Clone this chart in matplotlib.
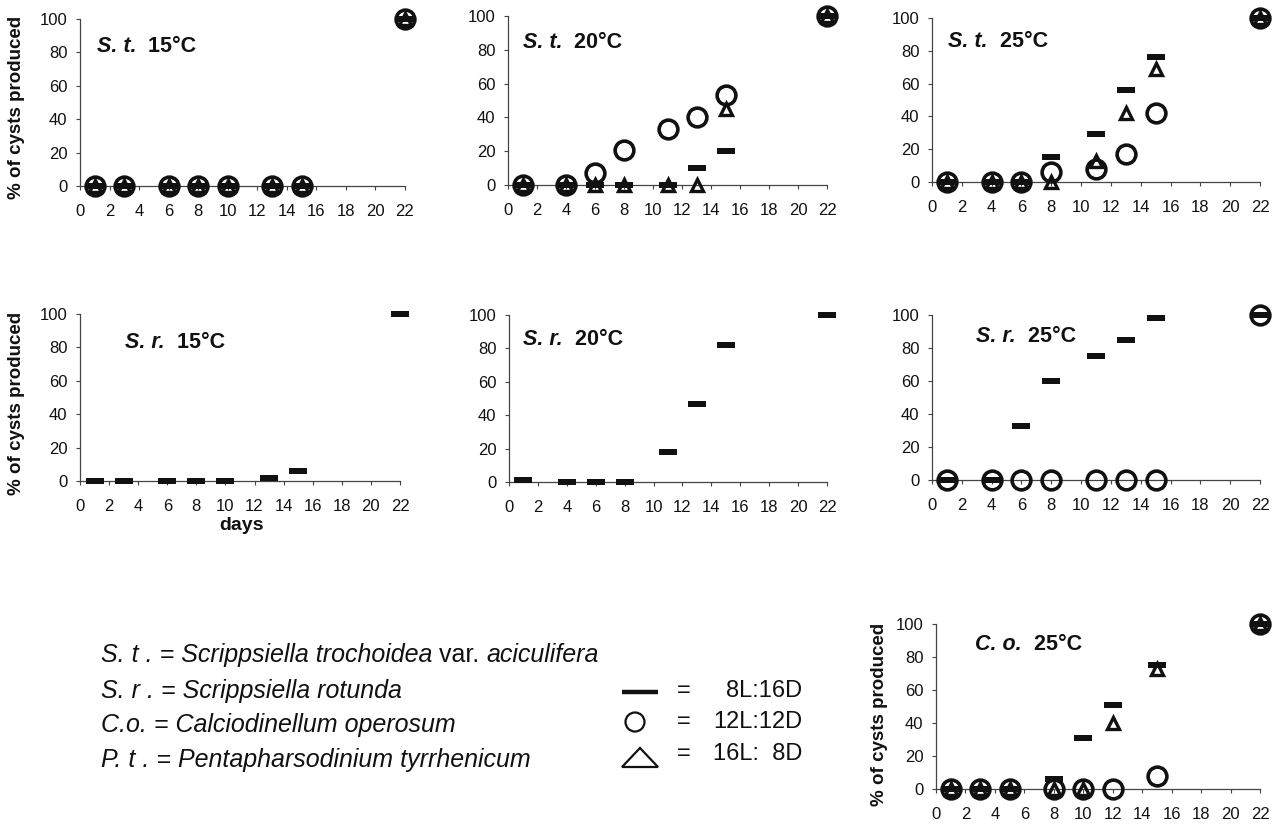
#!/usr/bin/env python3
"""Cyst production vs days, three photoperiods, seven panels."""
import matplotlib
matplotlib.use('Agg')
import matplotlib.pyplot as plt
from matplotlib.path import Path
from matplotlib.patches import Circle, Polygon

plt.rcParams['font.family'] = ['Liberation Sans', 'DejaVu Sans']

# ---- data ----
days_st15 = [1, 3, 6, 8, 10, 13, 15, 22]
st15_dash = [0, 0, 0, 0, 0, 0, 0, 100]
st15_circ = [0, 0, 0, 0, 0, 0, 0, 100]
st15_tri = [0, 0, 0, 0, 0, 0, 0, 100]

days_st20 = [1, 4, 6, 8, 11, 13, 15, 22]
st20_dash = [0, 0, 0, 0, 0, 10, 20, 100]
st20_circ = [0, 0, 7, 21, 33, 40, 53, 100]
st20_tri = [0, 0, 0, 0, 0, 0, 45, 100]

days_st25 = [1, 4, 6, 8, 11, 13, 15, 22]
st25_dash = [0, 0, 0, 15, 29, 56, 76, 100]
st25_circ = [0, 0, 0, 6, 8, 17, 42, 100]
st25_tri = [0, 0, 0, 0, 13, 42, 69, 100]

days_sr15 = [1, 3, 6, 8, 10, 13, 15, 22]
sr15_dash = [0, 0, 0, 0, 0, 2, 6, 100]

days_sr20 = [1, 4, 6, 8, 11, 13, 15, 22]
sr20_dash = [1, 0, 0, 0, 18, 47, 82, 100]

days_sr25 = [1, 4, 6, 8, 11, 13, 15, 22]
sr25_dash = [0, 0, 33, 60, 75, 85, 98, 100]
sr25_circ = [0, 0, 0, 0, 0, 0, 0, 100]

days_co25 = [1, 3, 5, 8, 10, 12, 15, 22]
co25_dash = [0, 0, 0, 6, 31, 51, 75, 100]
co25_circ = [0, 0, 0, 0, 0, 0, 8, 100]
co25_tri = [0, 0, 0, 0, 0, 40, 73, 100]

xticks = list(range(0, 23, 2))
yticks = [0, 20, 40, 60, 80, 100]

INK = '#111111'
SPINE = '#444444'

# thick horizontal bar marker
BAR = Path([(-1, -0.29), (1, -0.29), (1, 0.29), (-1, 0.29), (-1, -0.29)],
           [Path.MOVETO, Path.LINETO, Path.LINETO, Path.LINETO, Path.CLOSEPOLY])

fig = plt.figure(figsize=(12.81, 8.25), dpi=100)
fig.patch.set_facecolor('white')

W, H = 1281.0, 825.0


def px_axes(x0, x1, y_top, y_bot):
    return fig.add_axes([x0 / W, 1 - y_bot / H, (x1 - x0) / W, (y_bot - y_top) / H])


def style(ax):
    ax.set_xlim(0, 22)
    ax.set_ylim(0, 100)
    ax.set_xticks(xticks)
    ax.set_yticks(yticks)
    for s in ['top', 'right']:
        ax.spines[s].set_visible(False)
    for s in ['left', 'bottom']:
        ax.spines[s].set_color(SPINE)
        ax.spines[s].set_linewidth(0.9)
    ax.tick_params(axis='both', direction='out', length=3, width=0.8,
                   color=SPINE, labelsize=12, labelcolor=INK)
    ax.tick_params(axis='x', pad=10)
    ax.tick_params(axis='y', pad=6)
    ax.patch.set_alpha(0)


def plot_series(ax, days, dash=None, circ=None, tri=None):
    if circ is not None:
        ax.plot(days, circ, ls='none', marker='o', ms=13.5, mew=2.6,
                mec=INK, mfc='none', clip_on=False, zorder=3)
    if tri is not None:
        ax.plot(days, tri, ls='none', marker='^', ms=8.5, mew=2.4,
                mec=INK, mfc='none', clip_on=False, zorder=4)
    if dash is not None:
        ax.plot(days, dash, ls='none', marker=BAR, ms=12.5, mew=0,
                mfc=INK, clip_on=False, zorder=5)


panels = [
    (px_axes(80, 405, 19, 186), days_st15, st15_dash, st15_circ, st15_tri),
    (px_axes(508, 827, 16, 185), days_st20, st20_dash, st20_circ, st20_tri),
    (px_axes(932, 1260, 18, 182), days_st25, st25_dash, st25_circ, st25_tri),
    (px_axes(80, 400, 314, 481), days_sr15, sr15_dash, None, None),
    (px_axes(509, 827, 315, 482), days_sr20, sr20_dash, None, None),
    (px_axes(932, 1260, 315, 480), days_sr25, sr25_dash, sr25_circ, None),
    (px_axes(936, 1260, 624, 789), days_co25, co25_dash, co25_circ, co25_tri),
]

for ax, d, dash, circ, tri in panels:
    style(ax)
    plot_series(ax, d, dash, circ, tri)

# ---- overlay in pixel coordinates for the annotations ----
ov = fig.add_axes([0, 0, 1, 1], zorder=10)
ov.set_xlim(0, W)
ov.set_ylim(H, 0)
ov.axis('off')
ov.patch.set_alpha(0)

titles = [
    (97, 52, 'S. t.', '  15°C'),
    (523, 48, 'S. t.', '  20°C'),
    (948, 47, 'S. t.', '  25°C'),
    (125, 348, 'S. r.', '  15°C'),
    (523, 345, 'S. r.', '  20°C'),
    (976, 342, 'S. r.', '  25°C'),
    (975, 650, 'C. o.', '  25°C'),
]
for x, y, sp, temp in titles:
    t = ov.text(x, y, sp, fontsize=15.5, fontweight='bold', style='italic',
                ha='left', va='baseline', color=INK)
    ov.annotate(temp, xy=(1, 0), xycoords=t, fontsize=15.5, fontweight='bold',
                ha='left', va='bottom', color=INK)

for x, y in [(17, 107), (17, 403), (879, 714)]:
    ov.text(x, y, '% of cysts produced', rotation=90, fontsize=13.5,
            fontweight='bold', ha='center', va='center', color=INK)

ov.text(241, 525, 'days', fontsize=14, fontweight='bold', ha='center',
        va='center', color=INK)

# species key
LFS = 18
key_lines = [
    (662, [('S. t . = Scrippsiella trochoidea', 'italic'), (' var. ', 'normal'),
           ('aciculifera', 'italic')]),
    (698, [('S. r . = Scrippsiella rotunda', 'italic')]),
    (732, [('C.o. = Calciodinellum operosum', 'italic')]),
    (767, [('P. t . = Pentapharsodinium tyrrhenicum', 'italic')]),
]
for y, parts in key_lines:
    prev = None
    for txt, st in parts:
        if prev is None:
            prev = ov.text(101, y, txt, fontsize=LFS, style=st, ha='left',
                           va='baseline', color=INK)
        else:
            prev = ov.annotate(txt, xy=(1, 0), xycoords=prev, fontsize=LFS,
                               style=st, ha='left', va='bottom', color=INK)

# photoperiod key
ov.plot([622, 658], [692, 692], color=INK, lw=3.2, solid_capstyle='butt')
ov.add_patch(Circle((635, 722), 9.5, fill=False, ec=INK, lw=1.6))
ov.add_patch(Polygon([(622, 767), (658, 767), (640, 748)], closed=True,
                     fill=False, ec=INK, lw=1.6))
for y, lab in [(697, '8L:16D'), (728, '12L:12D'), (760, '16L:  8D')]:
    ov.text(684, y, '=', fontsize=17, ha='center', va='baseline', color=INK)
    ov.text(802, y, lab, fontsize=17, ha='right', va='baseline', color=INK)

plt.savefig('out.png', dpi=100, facecolor='white')
plt.close()
